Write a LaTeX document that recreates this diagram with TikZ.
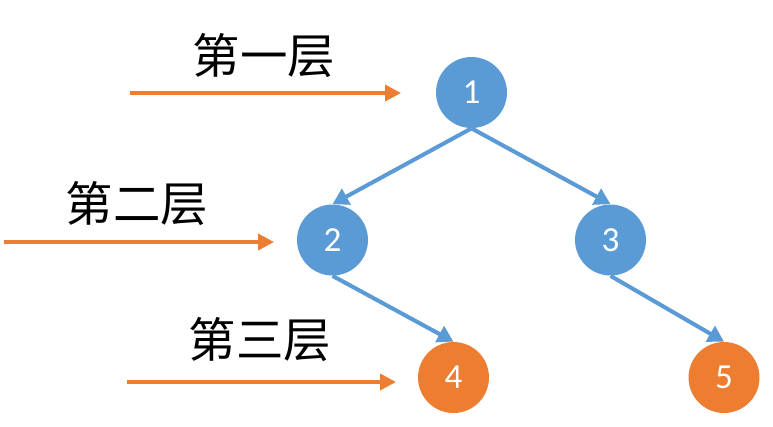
\documentclass[tikz,border=0pt]{standalone}
\usepackage{fontspec}
\setmainfont{Carlito}
\newfontfamily\cjk{Noto Sans CJK SC}
\usetikzlibrary{arrows.meta}
\definecolor{treeblue}{HTML}{5B9BD5}
\definecolor{treeorange}{HTML}{ED7D31}
\tikzset{
  vertex/.style={circle,fill=treeblue,text=white,minimum size=1.42cm,inner sep=0pt,font=\fontsize{20}{20}\selectfont},
  leaf/.style={vertex,fill=treeorange},
  edge/.style={draw=treeblue,line width=2.3pt,-{Triangle[length=9pt,width=10pt]}},
  levelarrow/.style={draw=treeorange,line width=2.1pt,-{Triangle[length=9pt,width=9pt]}},
  levellabel/.style={font=\cjk\fontsize{27}{27}\selectfont}
}
\begin{document}
\begin{tikzpicture}[x=0.02cm,y=-0.02cm]
    \useasboundingbox (0,0) rectangle (773,426);
    \node[vertex] (n1) at (471.5,92.5) {1};
    \node[vertex] (n2) at (332.5,240) {2};
    \node[vertex] (n3) at (610.5,240) {3};
    \node[leaf] (n4) at (453.5,377.5) {4};
    \node[leaf] (n5) at (724,377.5) {5};

    \draw[edge] (n1.south) -- (n2.north);
    \draw[edge] (n1.south) -- (n3.north);
    \draw[edge] (n2.south) -- (n4.north);
    \draw[edge] (n3.south) -- (n5.north);

    \node[levellabel] (l1) at (264,56) {第一层};
    \node[levellabel] (l2) at (137,204) {第二层};
    \node[levellabel] (l3) at (260,340) {第三层};

    \coordinate (a1) at (130,93);
    \coordinate (b1) at (401,93);
    \coordinate (a2) at (4,242);
    \coordinate (b2) at (274,242);
    \coordinate (a3) at (127,382);
    \coordinate (b3) at (396,382);
    \draw[levelarrow] (a1) -- (b1);
    \draw[levelarrow] (a2) -- (b2);
    \draw[levelarrow] (a3) -- (b3);
\end{tikzpicture}
\end{document}
